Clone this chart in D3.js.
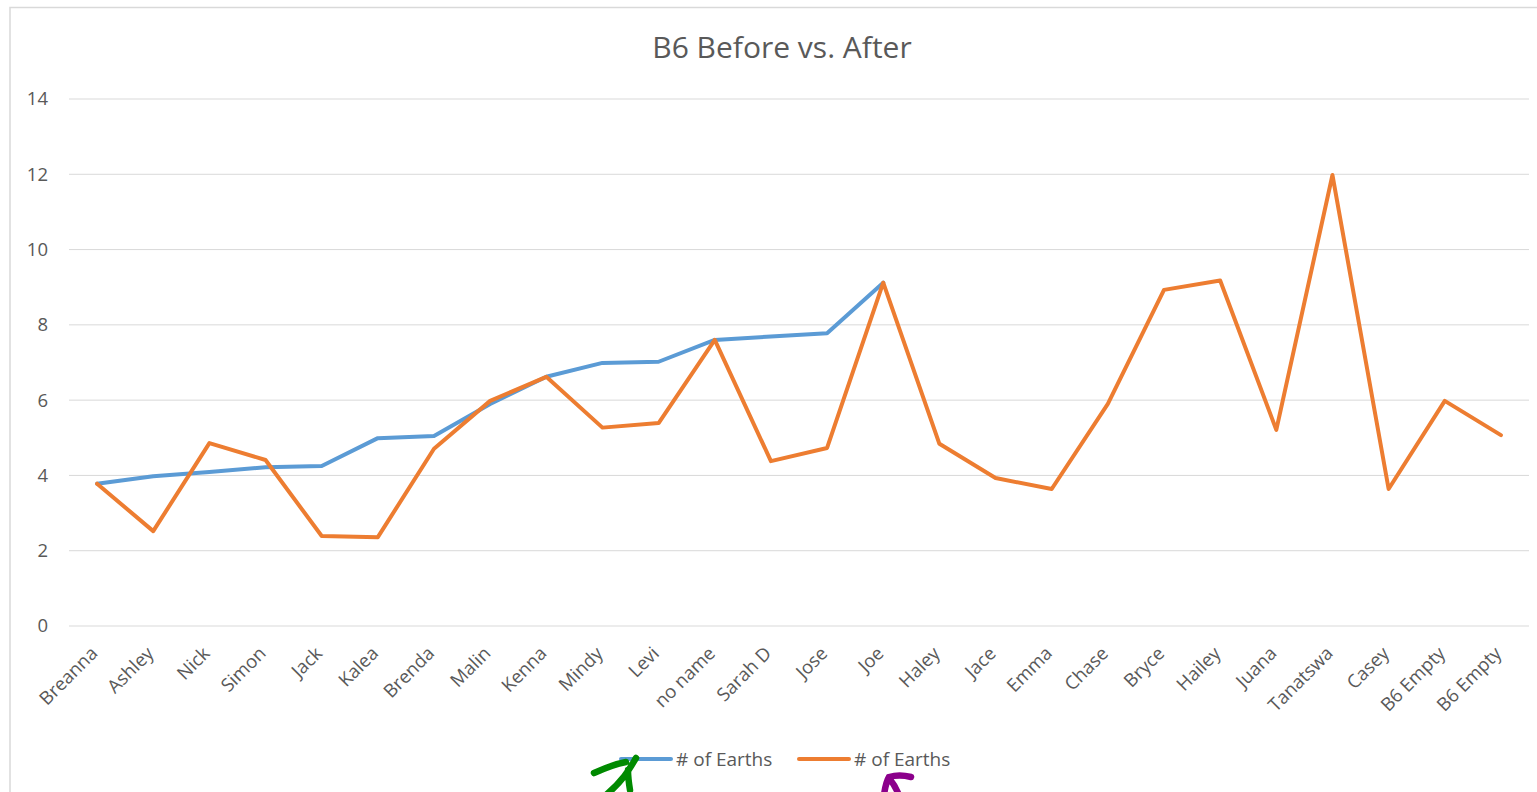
<!DOCTYPE html>
<html>
<head>
<meta charset="utf-8">
<script src="https://cdn.jsdelivr.net/npm/d3@7"></script>
<style>
  body { margin: 0; background: #fff; }
  svg { display: block; }
  text { font-family: "Open Sans", "Noto Sans", sans-serif; fill: #595959; }
</style>
</head>
<body>
<div id="chart"></div>
<script>
const width = 1537;
const height = 792;

const names = ["Breanna", "Ashley", "Nick", "Simon", "Jack", "Kalea", "Brenda", "Malin", "Kenna",
  "Mindy", "Levi", "no name", "Sarah D", "Jose", "Joe", "Haley", "Jace", "Emma", "Chase", "Bryce",
  "Hailey", "Juana", "Tanatswa", "Casey", "B6 Empty", "B6 Empty"];

// before (blue) - only drawn until Joe, after that it sits under the orange line
const before = [3.78, 3.98, 4.09, 4.22, 4.25, 4.99, 5.05, 5.9, 6.62, 6.99, 7.02, 7.6, 7.69, 7.78, 9.12];

// after (orange)
const after = [3.78, 2.52, 4.86, 4.41, 2.39, 2.36, 4.71, 5.98, 6.62, 5.27, 5.39, 7.6, 4.38, 4.73, 9.12,
  4.84, 3.93, 3.64, 5.9, 8.93, 9.18, 5.21, 11.98, 3.64, 5.98, 5.07];

const yTicks = [0, 2, 4, 6, 8, 10, 12, 14];

const seriesNames = ["# of Earths", "# of Earths"];
const colors = ["#5b9bd5", "#ed7d31"];

const svg = d3.select("#chart")
  .append("svg")
  .attr("width", width)
  .attr("height", height);

// chart frame
svg.append("rect")
  .attr("x", 10)
  .attr("y", 7.5)
  .attr("width", 1540)
  .attr("height", 800)
  .attr("fill", "none")
  .attr("stroke", "#d9d9d9")
  .attr("stroke-width", 1.5);

const xScale = d3.scaleBand()
  .domain(d3.range(names.length))
  .range([69, 1529]);

const xPos = i => xScale(i) + xScale.bandwidth() / 2;

const yScale = d3.scaleLinear()
  .domain([0, 14])
  .range([626, 99]);

// gridlines
svg.append("g")
  .selectAll("line")
  .data(yTicks)
  .enter()
  .append("line")
  .attr("x1", 69)
  .attr("x2", 1529)
  .attr("y1", d => yScale(d))
  .attr("y2", d => yScale(d))
  .attr("stroke", "#d9d9d9")
  .attr("stroke-width", 1);

// y axis labels
const yAxis = d3.axisLeft(yScale).tickValues(yTicks).tickSize(0).tickPadding(0);
svg.append("g")
  .attr("transform", "translate(48,0)")
  .call(yAxis)
  .call(g => g.select(".domain").remove())
  .selectAll("text")
  .attr("font-size", 18.5)
  .attr("font-family", null)
  .style("fill", "#595959");

// x labels, rotated
svg.append("g")
  .selectAll("text")
  .data(names)
  .enter()
  .append("text")
  .attr("transform", (d, i) => "translate(" + (xPos(i) - 3) + ",650) rotate(-45)")
  .attr("text-anchor", "end")
  .attr("dy", "0.35em")
  .attr("font-size", 18.5)
  .text(d => d);

const line = d3.line()
  .x((d, i) => xPos(i))
  .y(d => yScale(d));

svg.append("path")
  .datum(before)
  .attr("d", line)
  .attr("fill", "none")
  .attr("stroke", colors[0])
  .attr("stroke-width", 4)
  .attr("stroke-linejoin", "round")
  .attr("stroke-linecap", "round");

svg.append("path")
  .datum(after)
  .attr("d", line)
  .attr("fill", "none")
  .attr("stroke", colors[1])
  .attr("stroke-width", 4)
  .attr("stroke-linejoin", "round")
  .attr("stroke-linecap", "round");

// title
svg.append("text")
  .attr("x", 782)
  .attr("y", 58)
  .attr("text-anchor", "middle")
  .attr("font-size", 30)
  .text("B6 Before vs. After");

// legend
const legendX = [621, 799];
const legend = svg.append("g")
  .selectAll("g")
  .data(seriesNames)
  .enter()
  .append("g")
  .attr("transform", (d, i) => "translate(" + legendX[i] + ",759)");

legend.append("line")
  .attr("x1", 0)
  .attr("x2", 50)
  .attr("stroke", (d, i) => colors[i])
  .attr("stroke-width", 4)
  .attr("stroke-linecap", "round");

legend.append("text")
  .attr("x", 55)
  .attr("dy", "0.35em")
  .attr("font-size", 19)
  .text(d => d);

// hand drawn marks under the legend
svg.append("path")
  .attr("d", "M594,773 C605,768 615,764 626,762 M636,758 C630,768 624,780 606,795 M628,770 C628,778 629,784 630,790")
  .attr("fill", "none")
  .attr("stroke", "#008a00")
  .attr("stroke-width", 6.5)
  .attr("stroke-linecap", "round");

svg.append("path")
  .attr("d", "M884,795 C885,788 886,782 889,777 C896,775 903,775 911,777 M889,778 C893,783 896,788 898,793")
  .attr("fill", "none")
  .attr("stroke", "#8b008b")
  .attr("stroke-width", 6.5)
  .attr("stroke-linecap", "round");
</script>
</body>
</html>
